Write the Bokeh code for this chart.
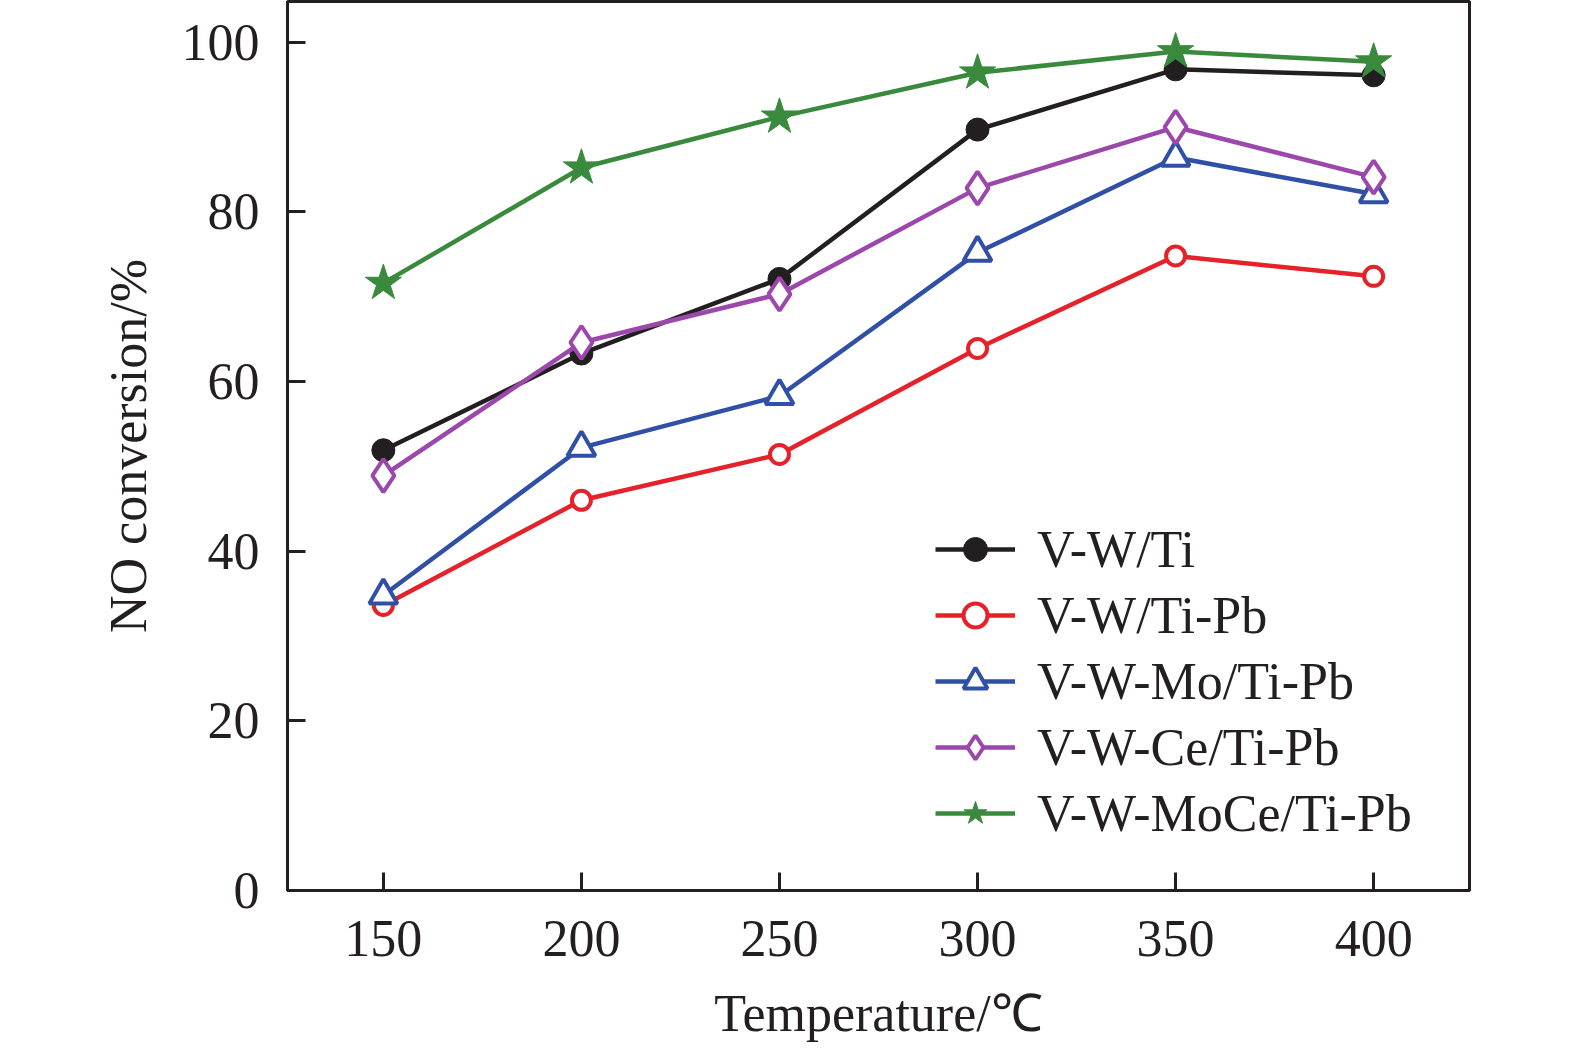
from bokeh.plotting import figure
from bokeh.models import Range1d, FixedTicker, Legend, LegendItem
from bokeh.embed import file_html
from bokeh.resources import INLINE

temps = [150, 200, 250, 300, 350, 400]

vw_ti = [51.9, 63.3, 72.1, 89.7, 96.8, 96.1]
vw_ti_pb = [33.6, 46.0, 51.4, 63.9, 74.8, 72.4]
vwmo_ti_pb = [34.8, 52.2, 58.3, 75.2, 86.4, 82.1]
vwce_ti_pb = [48.9, 64.6, 70.3, 82.8, 90.0, 84.1]
vwmoce_ti_pb = [71.6, 85.2, 91.2, 96.4, 98.9, 97.7]

series = [
    ("V-W/Ti", vw_ti, "#231f20", "circle", "#231f20", 23),
    ("V-W/Ti-Pb", vw_ti_pb, "#e52229", "circle", "white", 19),
    ("V-W-Mo/Ti-Pb", vwmo_ti_pb, "#3050a8", "triangle", "white", 28),
    ("V-W-Ce/Ti-Pb", vwce_ti_pb, "#9b47ab", "diamond", "white", 33),
    ("V-W-MoCe/Ti-Pb", vwmoce_ti_pb, "#3a8a3e", "star", "#3a8a3e", 38),
]

FONT = "Liberation Serif"
INK = "#231f20"

p = figure(width=1563, height=1044, output_backend="svg", toolbar_location=None,
           x_range=Range1d(125.8, 424.2), y_range=Range1d(0, 104.8),
           min_border_left=287, min_border_right=94, min_border_top=1, min_border_bottom=150)

p.outline_line_color = INK
p.outline_line_width = 3
p.xgrid.visible = False
p.ygrid.visible = False

p.xaxis.ticker = FixedTicker(ticks=temps)
p.yaxis.ticker = FixedTicker(ticks=[0, 20, 40, 60, 80, 100])
for ax in (p.xaxis, p.yaxis):
    ax.axis_line_color = INK
    ax.axis_line_width = 3
    ax.major_tick_line_color = INK
    ax.major_tick_line_width = 3
    ax.major_tick_in = 18
    ax.major_tick_out = 0
    ax.minor_tick_line_color = None
    ax.major_label_text_font = FONT
    ax.major_label_text_font_size = "52px"
    ax.major_label_text_color = INK
    ax.axis_label_text_font = FONT
    ax.axis_label_text_font_size = "52px"
    ax.axis_label_text_font_style = "normal"
    ax.axis_label_text_color = INK

p.xaxis.major_label_standoff = 30
p.yaxis.major_label_standoff = 28
p.xaxis.axis_label = "Temperature/℃"
p.yaxis.axis_label = "NO conversion/%"
p.xaxis.axis_label_standoff = 26
p.yaxis.axis_label_standoff = 22

items = []
for name, vals, color, marker, fill, size in series:
    ln = p.line(temps, vals, line_color=color, line_width=4.5)
    sc = p.scatter(temps, vals, marker=marker, size=size, line_color=color,
                   fill_color=fill, line_width=4 if fill == "white" else 1)
    items.append(LegendItem(label=name, renderers=[ln, sc]))

legend = Legend(items=items, location=(648, 47))
legend.border_line_color = None
legend.background_fill_alpha = 0
legend.padding = 0
legend.margin = 0
legend.spacing = 6
legend.glyph_width = 80
legend.glyph_height = 60
legend.label_standoff = 22
legend.label_text_font = FONT
legend.label_text_font_size = "52px"
legend.label_text_color = INK
p.add_layout(legend, "center")

open("out.html", "w").write(file_html(p, INLINE))
